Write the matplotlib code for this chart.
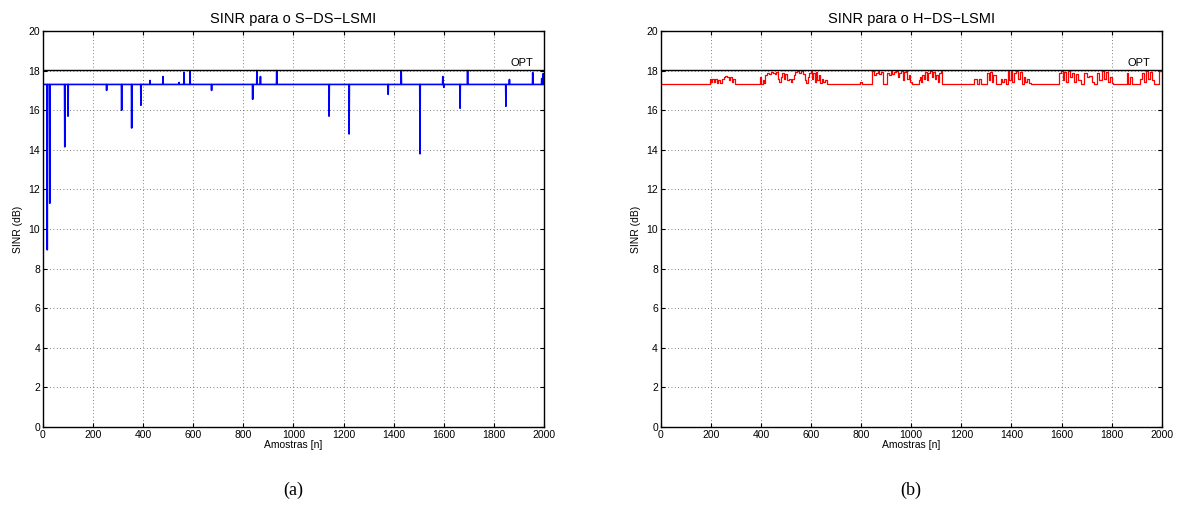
import numpy as np
import matplotlib.pyplot as plt

# samples
n_samples = 2000
opt_level = 18.05
base_level = 17.3

# S-DS-LSMI: flat level with isolated one-sample spikes
s_spike_idx = [17, 27, 87, 100, 254, 314, 354, 391, 427, 479, 543, 563, 587,
               673, 837, 854, 868, 933, 1142, 1222, 1378, 1430, 1505, 1596,
               1600, 1665, 1695, 1848, 1862, 1955, 1991, 1997]
s_spike_val = [8.95, 11.3, 14.15, 15.7, 17.0, 16.0, 15.1, 16.25, 17.5, 17.7,
               17.4, 17.9, 17.95, 17.0, 16.55, 18.0, 17.7, 18.0, 15.7, 14.8,
               16.8, 18.0, 13.8, 17.7, 17.15, 16.1, 18.0, 16.2, 17.55, 17.9,
               17.6, 17.85]

# H-DS-LSMI: step profile (sample index where level changes, new level)
h_step_x = [0, 195, 200, 205, 212, 218, 224, 230, 236, 245, 252, 258, 266,
            272, 278, 284, 290, 297,
            395, 400, 407, 412, 418, 425, 432, 440, 448, 455, 462, 468, 474,
            480, 486, 492, 498, 505, 512, 518, 524, 530, 536, 545, 552, 560,
            568, 575, 580, 586, 592, 598, 604, 608, 614, 618, 624, 630, 636,
            642, 648, 655, 664,
            797, 803,
            844, 850, 858, 866, 872, 880, 888, 905, 912, 918, 925, 932, 940,
            946, 952, 958, 967, 972, 980, 984, 990, 996, 1004, 1030, 1034,
            1038, 1044, 1050, 1056, 1062, 1068, 1074, 1082, 1088, 1094, 1100,
            1106, 1112, 1118, 1124,
            1250, 1262, 1270, 1280, 1304, 1310, 1316, 1322, 1328, 1337,
            1357, 1364, 1370, 1377, 1385, 1392, 1398, 1404, 1412, 1420, 1428,
            1436, 1444, 1449, 1456, 1462, 1470, 1477,
            1590, 1596, 1604, 1610, 1618, 1626, 1634, 1642, 1650, 1658, 1666,
            1677, 1690, 1700, 1710, 1720, 1730, 1742, 1750, 1760, 1768, 1776,
            1784, 1792, 1800, 1806,
            1860, 1866, 1872, 1880, 1915, 1922, 1930, 1938, 1946, 1954, 1962,
            1970, 1990, 2000]
h_step_y = [17.3, 17.6, 17.4, 17.6, 17.4, 17.55, 17.35, 17.5, 17.35, 17.6,
            17.7, 17.75, 17.7, 17.5, 17.7, 17.4, 17.6, 17.3,
            17.7, 17.3, 17.5, 17.35, 17.8, 17.9, 17.85, 17.95, 17.9, 17.85,
            17.95, 17.6, 17.4, 17.7, 17.9, 17.6, 17.85, 17.5, 17.6, 17.4,
            17.55, 17.8, 17.95, 18.0, 17.9, 18.0, 17.85, 17.5, 17.35, 17.7,
            17.9, 18.0, 17.6, 17.9, 17.4, 17.95, 17.5, 17.8, 17.35, 17.6,
            17.4, 17.5, 17.3,
            17.4, 17.3,
            18.0, 17.8, 17.9, 18.0, 17.85, 17.95, 17.3, 17.9, 17.8, 18.0,
            17.85, 17.95, 18.0, 17.7, 17.9, 18.0, 17.5, 17.95, 18.0, 17.6,
            17.8, 17.4, 17.3, 17.5, 17.7, 17.4, 17.8, 17.6, 17.95, 17.5, 17.9,
            18.0, 17.7, 17.95, 17.6, 17.8, 17.4, 17.9, 18.0, 17.3,
            17.55, 17.3, 17.6, 17.3, 17.9, 17.5, 17.95, 17.4, 17.8, 17.3,
            17.6, 17.4, 17.55, 17.3, 18.0, 17.5, 18.0, 17.4, 17.9, 18.0, 17.6,
            17.95, 17.3, 17.7, 17.4, 17.6, 17.35, 17.3,
            17.9, 18.0, 17.5, 17.95, 17.4, 18.0, 17.7, 17.9, 17.4, 17.85, 17.5,
            17.3, 17.9, 17.7, 17.75, 17.4, 17.3, 17.9, 17.5, 18.0, 17.6, 17.95,
            17.4, 17.7, 17.35, 17.3,
            17.9, 17.3, 17.7, 17.3, 17.6, 17.9, 17.4, 18.0, 17.6, 17.95, 17.5,
            17.3, 18.0, 18.0]

x_ticks = np.arange(0, 2001, 200)
y_ticks = np.arange(0, 21, 2)
titles = ['SINR para o S\u2212DS\u2212LSMI', 'SINR para o H\u2212DS\u2212LSMI']
captions = ['(a)', '(b)']

plt.rcParams['font.family'] = ['Liberation Sans', 'DejaVu Sans']

fig = plt.figure(figsize=(11.78, 5.26), dpi=100)
ax_l = fig.add_axes([0.0365, 0.1882, 0.4253, 0.7529])
ax_r = fig.add_axes([0.5609, 0.1882, 0.4253, 0.7529])

n = np.arange(n_samples)
s_sinr = np.full(n_samples, base_level)
s_sinr[s_spike_idx] = s_spike_val
ax_l.plot(n, s_sinr, color='b', lw=1.2)
ax_r.plot(h_step_x, h_step_y, color='r', lw=0.9, drawstyle='steps-post')

for ax, title, cap in zip([ax_l, ax_r], titles, captions):
    ax.plot([0, n_samples], [opt_level, opt_level], color='k', lw=1.0)
    ax.text(1910, 18.15, 'OPT', ha='center', va='bottom', fontsize=8)
    ax.set_xlim(0, 2000)
    ax.set_ylim(0, 20)
    ax.set_xticks(x_ticks)
    ax.set_yticks(y_ticks)
    ax.tick_params(direction='in', top=True, right=True, labelsize=7.5,
                   length=3, pad=2)
    ax.grid(True, linestyle=(0, (1, 3)), color='#555555', lw=0.6)
    for s in ax.spines.values():
        s.set_linewidth(1.0)
    ax.set_title(title, fontsize=10.5, pad=6)
    ax.set_xlabel('Amostras [n]', fontsize=7.5, labelpad=0)
    ax.set_ylabel('SINR (dB)', fontsize=7.5, labelpad=4)
    ax.text(0.5, -0.16, cap, transform=ax.transAxes, ha='center', va='center',
            fontsize=13, family='Liberation Serif')

fig.savefig('out.png', dpi=100)
